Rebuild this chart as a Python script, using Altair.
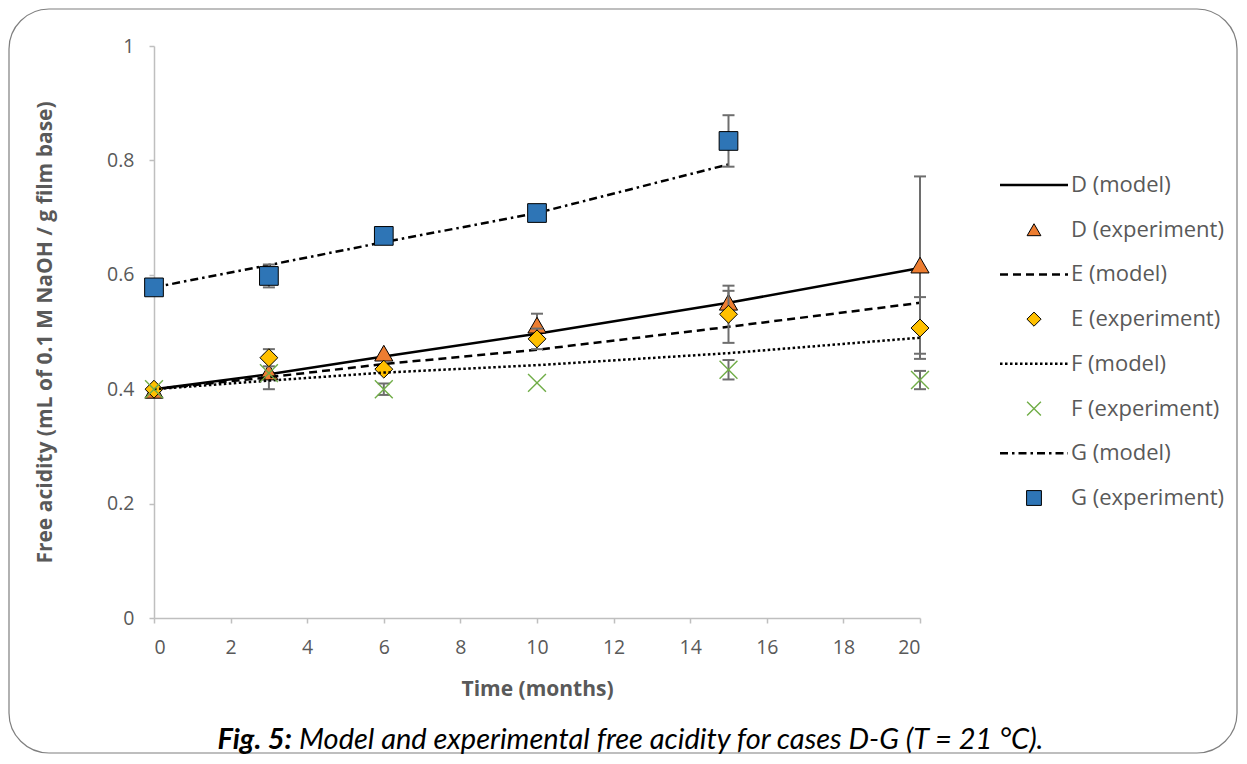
import altair as alt
import pandas as pd

# ---------------- data ----------------
months_exp = [0, 3, 6, 10, 15, 20]
months_exp_g = [0, 3, 6, 10, 15]

d_exp = [0.398, 0.430, 0.463, 0.512, 0.552, 0.617]
d_err = [0.0, 0.030, 0.0, 0.020, 0.020, 0.155]
e_exp = [0.400, 0.455, 0.435, 0.488, 0.531, 0.507]
e_err = [0.0, 0.015, 0.0, 0.018, 0.050, 0.054]
f_exp = [0.400, 0.428, 0.400, 0.411, 0.434, 0.416]
f_err = [0.0, 0.0, 0.010, 0.0, 0.017, 0.016]
g_exp = [0.578, 0.598, 0.668, 0.708, 0.834]
g_err = [0.0, 0.020, 0.0, 0.0, 0.045]

months_model = [0, 3, 6, 10, 15, 20]
months_model_g = [0, 3, 6, 10, 15]
d_model = [0.400, 0.426, 0.457, 0.497, 0.551, 0.612]
e_model = [0.400, 0.421, 0.444, 0.469, 0.509, 0.551]
f_model = [0.400, 0.415, 0.429, 0.442, 0.463, 0.490]
g_model = [0.578, 0.617, 0.657, 0.708, 0.793]

legend_labels = ["D (model)", "D (experiment)", "E (model)", "E (experiment)",
                 "F (model)", "F (experiment)", "G (model)", "G (experiment)"]

y_ticks = [0, 0.2, 0.4, 0.6, 0.8, 1]
x_ticks = list(range(0, 21, 2))

caption_bold = "Fig. 5:"
caption_rest = "Model and experimental free acidity for cases D-G (T = 21 °C)."

# ---------------- styling ----------------
W, H = 766, 572
GREY_TXT = "#595959"
FONT = "Open Sans"

XS = alt.Scale(domain=[0, 20], nice=False, zero=False)
YS = alt.Scale(domain=[0, 1], nice=False, zero=False)
LEG = alt.Scale(type="point", domain=legend_labels, range=[139, 452], padding=0)

X_AXIS = alt.Axis(values=x_ticks, title="Time (months)", titleX=383, titleY=71,
                  titleBaseline="middle", titleAlign="center", labelPadding=15,
                  tickSize=5, grid=False)
Y_AXIS = alt.Axis(values=y_ticks, format="~g",
                  title="Free acidity (mL of 0.1 M NaOH / g film base)",
                  titleX=-109, titleY=286, titleAngle=-90, titleAlign="center",
                  titleBaseline="middle", labelPadding=15, tickSize=5, grid=False)

series = [
    dict(name="D", mx=months_model, my=d_model, ex=months_exp, ey=d_exp, er=d_err,
         dash=None, shape="triangle-up", fill="#ED7D31", stroke="black", size=330, lsize=190, sw=1),
    dict(name="E", mx=months_model, my=e_model, ex=months_exp, ey=e_exp, er=e_err,
         dash=[8, 5], shape="diamond", fill="#FFC000", stroke="black", size=320, lsize=200, sw=1),
    dict(name="F", mx=months_model, my=f_model, ex=months_exp, ey=f_exp, er=f_err,
         dash=[2.5, 2.5], shape="M-1,-1L1,1M-1,1L1,-1", fill=None, stroke="#70AD47", size=320, lsize=190, sw=1.4),
    dict(name="G", mx=months_model_g, my=g_model, ex=months_exp_g, ey=g_exp, er=g_err,
         dash=[8, 4, 2.5, 4], shape="square", fill="#2E75B6", stroke="black", size=350, lsize=220, sw=1),
]

layers = []

# decorative frame
frame = alt.Chart(pd.DataFrame({"k": [0]})).mark_rect(
    fill="transparent", stroke="#7F7F7F", strokeWidth=1.2, cornerRadius=40
).encode(x=alt.value(-145), x2=alt.value(1083), y=alt.value(-37), y2=alt.value(707))
layers.append(frame)

first = True
for s in series:
    mdf = pd.DataFrame({"month": s["mx"], "value": s["my"]})
    line_kw = dict(color="black", strokeWidth=2.5)
    if s["dash"]:
        line_kw["strokeDash"] = s["dash"]
    line = alt.Chart(mdf).mark_line(**line_kw).encode(
        x=alt.X("month:Q", scale=XS, axis=X_AXIS),
        y=alt.Y("value:Q", scale=YS, axis=Y_AXIS if first else None),
    )
    first = False
    layers.append(line)

    edf = pd.DataFrame({"month": s["ex"], "value": s["ey"], "err": s["er"]})
    edf["lo"] = edf["value"] - edf["err"]
    edf["hi"] = edf["value"] + edf["err"]
    edf_err = edf[edf["err"] > 0]
    base_err = alt.Chart(edf_err)
    bar = base_err.mark_rule(color="#6E6E6E", strokeWidth=2).encode(
        x=alt.X("month:Q", scale=XS, axis=X_AXIS),
        y=alt.Y("lo:Q", scale=YS, axis=None),
        y2="hi:Q",
    )
    cap_lo = base_err.mark_tick(orient="horizontal", size=12, thickness=2, color="#6E6E6E", opacity=1).encode(
        x=alt.X("month:Q", scale=XS, axis=X_AXIS),
        y=alt.Y("lo:Q", scale=YS, axis=None),
    )
    cap_hi = base_err.mark_tick(orient="horizontal", size=12, thickness=2, color="#6E6E6E", opacity=1).encode(
        x=alt.X("month:Q", scale=XS, axis=X_AXIS),
        y=alt.Y("hi:Q", scale=YS, axis=None),
    )
    layers += [bar, cap_lo, cap_hi]

    pkw = dict(shape=s["shape"], size=s["size"], stroke=s["stroke"], strokeWidth=s["sw"], opacity=1)
    if s["fill"]:
        pkw.update(filled=True, fill=s["fill"])
    else:
        pkw.update(filled=False)
    pts = alt.Chart(edf).mark_point(**pkw).encode(
        x=alt.X("month:Q", scale=XS, axis=X_AXIS),
        y=alt.Y("value:Q", scale=YS, axis=None),
    )
    layers.append(pts)

    # legend entries
    lrule = alt.Chart(pd.DataFrame({"label": [s["name"] + " (model)"]})).mark_rule(**line_kw).encode(
        x=alt.value(846), x2=alt.value(914),
        y=alt.Y("label:N", scale=LEG, axis=None),
    )
    lkw = dict(pkw)
    lkw["size"] = s["lsize"]
    lsym = alt.Chart(pd.DataFrame({"label": [s["name"] + " (experiment)"]})).mark_point(**lkw).encode(
        x=alt.value(880),
        y=alt.Y("label:N", scale=LEG, axis=None),
    )
    layers += [lrule, lsym]

legend_text = alt.Chart(pd.DataFrame({"label": legend_labels})).mark_text(
    align="left", baseline="middle", fontSize=22, color=GREY_TXT, font=FONT
).encode(
    x=alt.value(917),
    y=alt.Y("label:N", scale=LEG, axis=None),
    text="label:N",
)
layers.append(legend_text)

cap1 = alt.Chart(pd.DataFrame({"t": [caption_bold]})).mark_text(
    align="right", baseline="middle", fontSize=29, font="Lato", fontStyle="italic",
    fontWeight="bold", color="black"
).encode(x=alt.value(138), y=alt.value(694), text="t:N")
cap2 = alt.Chart(pd.DataFrame({"t": [caption_rest]})).mark_text(
    align="left", baseline="middle", fontSize=29, font="Lato", fontStyle="italic",
    color="black"
).encode(x=alt.value(145), y=alt.value(694), text="t:N")
layers += [cap1, cap2]

chart = alt.layer(*layers).resolve_scale(y="independent").properties(
    width=W, height=H,
    autosize=alt.AutoSizeParams(type="none"),
    padding={"left": 146, "top": 38, "right": 319, "bottom": 136},
).configure_view(stroke="transparent").configure_axis(
    domainColor="#BFBFBF", tickColor="#BFBFBF", domainWidth=1.5, tickWidth=1.5,
    labelColor=GREY_TXT, labelFont=FONT, labelFontSize=19.5,
    titleColor=GREY_TXT, titleFont=FONT, titleFontSize=21, titleFontWeight="bold",
)

chart.save("out.html", embed_options={"renderer": "svg", "actions": False})
